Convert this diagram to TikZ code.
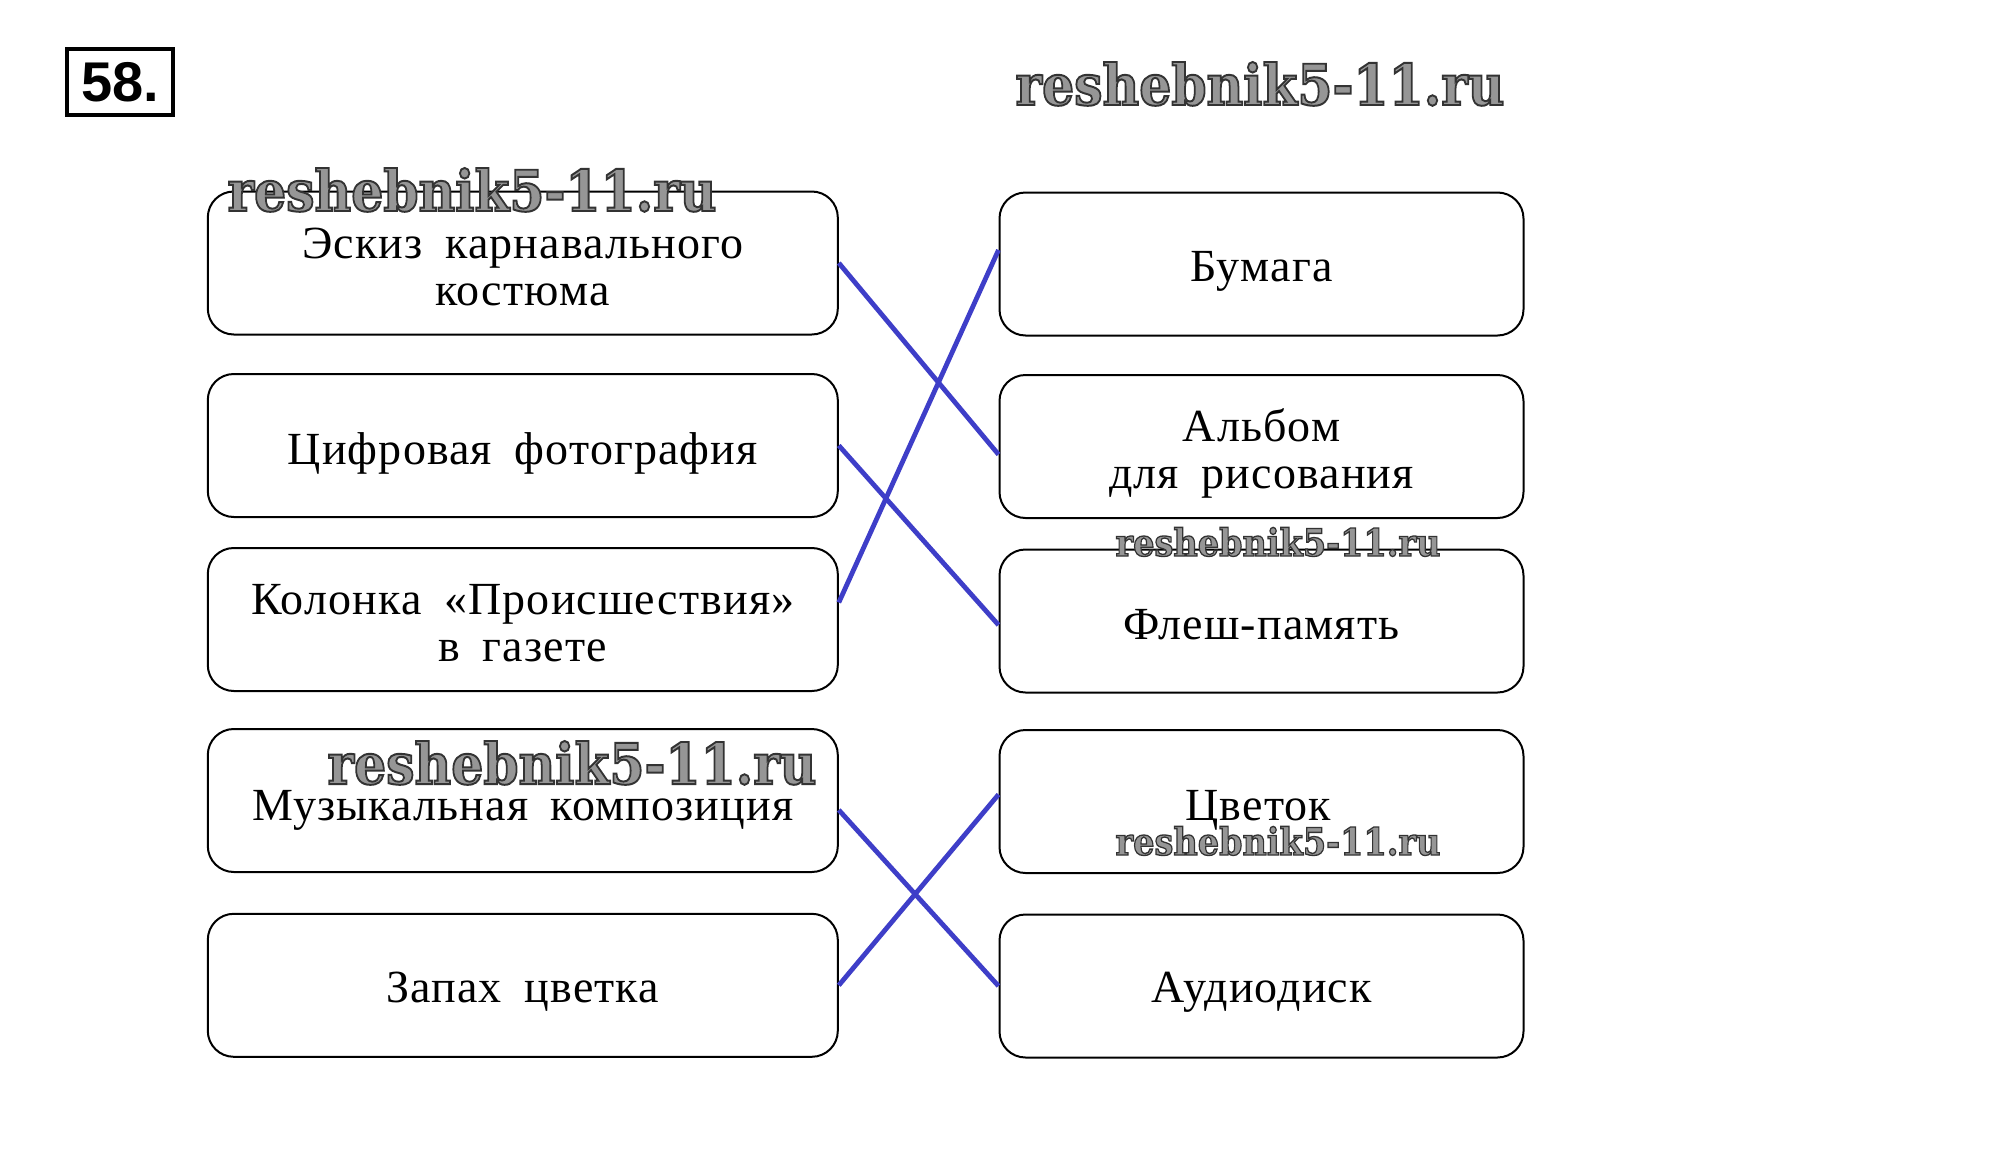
\documentclass[tikz,border=0pt]{standalone}
\usepackage{fontspec}
\setmainfont[WordSpace=1.8,LetterSpace=2.5]{Liberation Serif}
\newfontfamily\wmfont{DejaVu Serif}
\newfontfamily\numfont{Liberation Sans}
\usetikzlibrary{calc}
\definecolor{lineblue}{RGB}{62,62,200}
\definecolor{wmgray}{RGB}{150,150,150}
\newcommand{\wmtext}{\special{pdf:literal direct 2 Tr 0.35 w 0.2 0.2 0.2 RG}reshebnik5-11.ru\special{pdf:literal direct 0 Tr}}
\begin{document}
\begin{tikzpicture}[x=0.5pt,y=-0.5pt,
  cardbox/.style={draw=black, line width=1pt, rounded corners=13pt,
    minimum height=71.5pt, inner sep=0pt},
  leftbox/.style={cardbox, minimum width=315pt},
  rightbox/.style={cardbox, minimum width=262pt},
  cardtext/.style={inner sep=0pt, align=center, font=\fontsize{23}{23.5}\selectfont},
  wm/.style={inner sep=0pt, anchor=base, text=wmgray, font=\wmfont\bfseries},
  link/.style={draw=lineblue, line width=2.4pt},
  numbox/.style={draw=black, line width=2pt, minimum width=53pt, minimum height=33pt,
    inner sep=0pt, font=\numfont\bfseries\fontsize{28}{28}\selectfont}]
\useasboundingbox (0,0) rectangle (2009,1157);
\fill[white] (0,0) rectangle (2009,1157);

\node[numbox] (N) at (120,82) {58.};

\node[leftbox] (L1) at (522.8,263) {};
\node[leftbox] (L2) at (522.8,445.5) {};
\node[leftbox] (L3) at (522.8,619.5) {};
\node[leftbox] (L4) at (522.8,800.5) {};
\node[leftbox] (L5) at (522.8,985.3) {};

\node[rightbox] (R1) at (1261.5,264) {};
\node[rightbox] (R2) at (1261.5,446.5) {};
\node[rightbox] (R3) at (1261.5,621) {};
\node[rightbox] (R4) at (1261.5,801.5) {};
\node[rightbox] (R5) at (1261.5,986) {};

\node[cardtext] (TL1) at ([yshift=-2pt]L1.center) {Эскиз карнавального\\костюма};
\node[cardtext] (TL2) at ([yshift=-3.8pt]L2.center) {Цифровая фотография};
\node[cardtext] (TL3) at ([yshift=-2pt]L3.center) {Колонка «Происшествия»\\в газете};
\node[cardtext] (TL4) at ([yshift=-5pt]L4.center) {Музыкальная композиция};
\node[cardtext] (TL5) at ([yshift=-3.2pt]L5.center) {Запах цветка};

\node[cardtext] (TR1) at ([yshift=-3.8pt]R1.center) {Бумага};
\node[cardtext] (TR2) at ([yshift=-3.5pt]R2.center) {Альбом\\для рисования};
\node[cardtext] (TR3) at ([yshift=-2pt]R3.center) {Флеш-память};
\node[cardtext] (TR4) at ([yshift=-4.5pt,xshift=-1.5pt]R4.center) {Цветок};
\node[cardtext] (TR5) at ([yshift=-3.2pt]R5.center) {Аудиодиск};

\draw[link] (L1.east) -- ([yshift=-4pt]R2.west);
\draw[link] ([yshift=8.5pt]L3.east) -- ([yshift=7pt]R1.west);
\draw[link] (L2.east) -- ([yshift=-2pt]R3.west);
\draw[link] ([yshift=-4.75pt]L4.east) -- (R5.west);
\draw[link] (L5.east) -- ([yshift=3.5pt]R4.west);

\node[wm] (W1) at (1260,105) {\resizebox{244.5pt}{21.5pt}{\wmtext}};
\node[wm] (W2) at (472,211) {\resizebox{244.5pt}{21.5pt}{\wmtext}};
\node[wm] (W3) at (1278,556) {\resizebox{162.5pt}{14.3pt}{\wmtext}};
\node[wm] (W4) at (572,784) {\resizebox{244.5pt}{21.5pt}{\wmtext}};
\node[wm] (W5) at (1278,855) {\resizebox{162.5pt}{14.3pt}{\wmtext}};
\end{tikzpicture}
\end{document}
